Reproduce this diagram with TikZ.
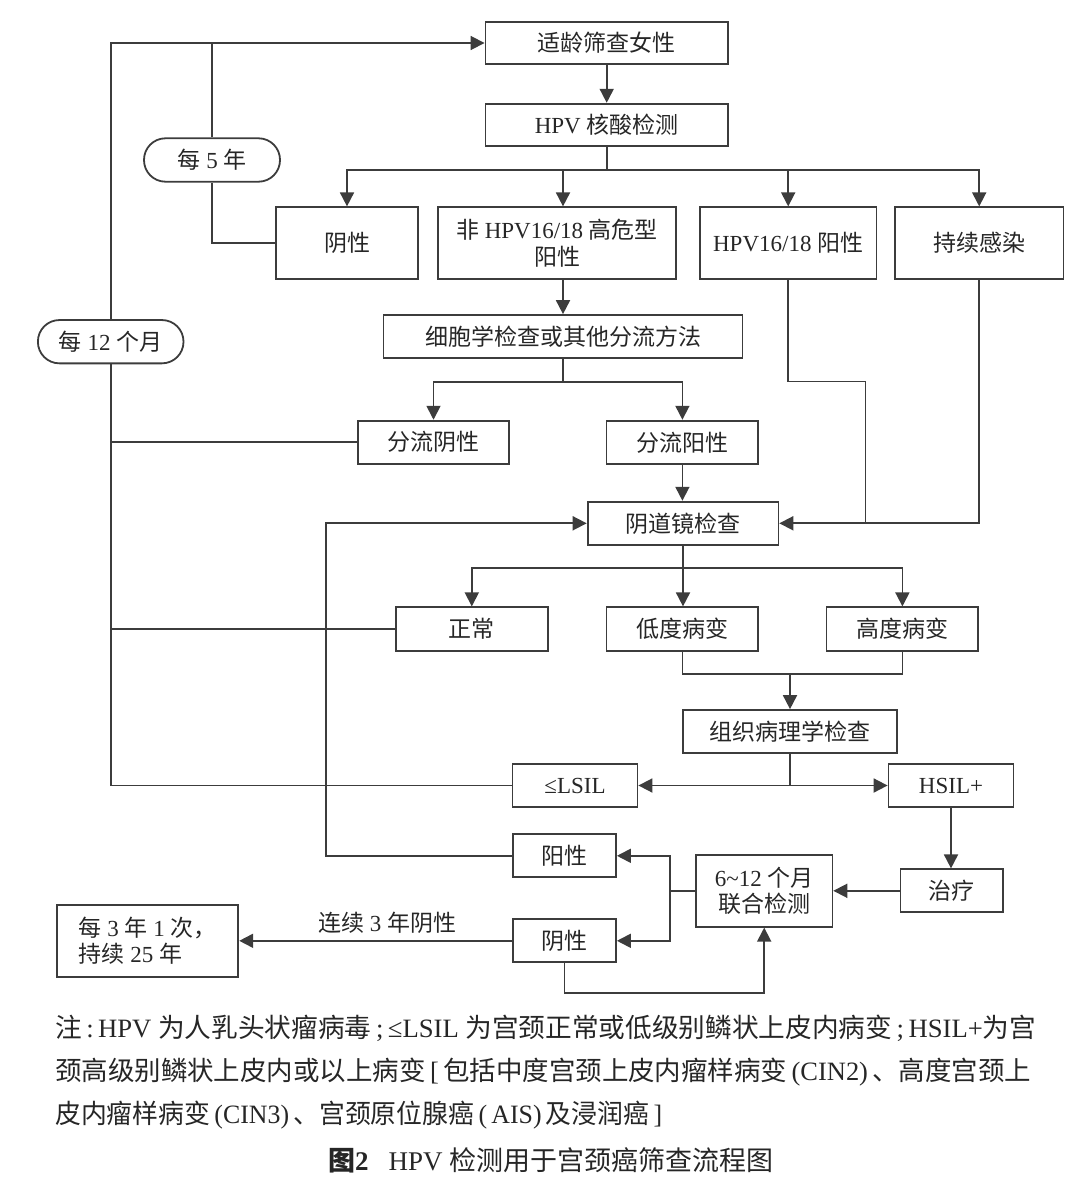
\documentclass[tikz,border=0pt]{standalone}
\usepackage{fontspec}
\usepackage{graphicx}
\setmainfont{Liberation Serif}
\newfontfamily\cjk{Noto Sans CJK SC}
\newcommand\zh[1]{{\cjk #1}}
\newcommand\fsz{\fontsize{23}{26.5}\selectfont}
\newcommand\nfsz{\fontsize{26.5}{30}\selectfont}
\newcommand\cfsz{\fontsize{27}{30}\selectfont}
\usetikzlibrary{arrows.meta}
\definecolor{lc}{HTML}{3C3C3C}
\definecolor{tc}{HTML}{262626}
\begin{document}
\begin{tikzpicture}[x=1pt,y=-1pt,
  every node/.style={text=tc},
  box/.style={draw=lc, line width=1.8pt, inner sep=0pt, align=center, font=\fsz},
  pill/.style={box, rounded corners=21.5pt},
  con/.style={draw=lc, line width=1.8pt},
  arr/.style={con, -{Triangle[length=14pt,width=14pt]}},
  lbl/.style={inner sep=0pt, font=\fsz},
  note/.style={inner sep=0pt, anchor=west, font=\nfsz}]
\useasboundingbox (0,0) rectangle (1080,1190);
% boxes
\node[box, minimum width=242.5pt, minimum height=42.6pt] (top) at (606.7,43) {\zh{适龄筛查女性}};
\node[box, minimum width=242.5pt, minimum height=42.6pt] (hpv) at (606.7,125) {HPV \zh{核酸检测}};
\node[box, minimum width=142pt, minimum height=71.4pt] (neg1) at (347,243) {\zh{阴性}};
\node[box, minimum width=237.6pt, minimum height=71.4pt] (nonhpv) at (557,243) {\zh{非} HPV16/18 \zh{高危型}\\\zh{阳性}};
\node[box, minimum width=176.4pt, minimum height=71.4pt] (hpv1618) at (788.2,243) {HPV16/18 \zh{阳性}};
\node[box, minimum width=168.4pt, minimum height=71.4pt] (persist) at (979.2,243) {\zh{持续感染}};
\node[box, minimum width=359pt, minimum height=43.3pt] (cyto) at (563,336.7) {\zh{细胞学检查或其他分流方法}};
\node[box, minimum width=151.5pt, minimum height=43.3pt] (trineg) at (433.5,442.3) {\zh{分流阴性}};
\node[box, minimum width=151.8pt, minimum height=43.3pt] (tripos) at (682.4,442.3) {\zh{分流阳性}};
\node[box, minimum width=190.8pt, minimum height=43.3pt] (colpo) at (683,523.3) {\zh{阴道镜检查}};
\node[box, minimum width=151.6pt, minimum height=43.4pt] (normal) at (471.8,629) {\zh{正常}};
\node[box, minimum width=151.8pt, minimum height=43.4pt] (low) at (682.4,629) {\zh{低度病变}};
\node[box, minimum width=151.9pt, minimum height=43.4pt] (high) at (902.4,629) {\zh{高度病变}};
\node[box, minimum width=214.5pt, minimum height=43.3pt] (histo) at (790,731.7) {\zh{组织病理学检查}};
\node[box, minimum width=125pt, minimum height=43pt] (lsil) at (575,785.5) {≤LSIL};
\node[box, minimum width=125pt, minimum height=43pt] (hsil) at (951,785.5) {HSIL+};
\node[box, minimum width=103pt, minimum height=43pt] (pos2) at (564.5,855.8) {\zh{阳性}};
\node[box, minimum width=136.4pt, minimum height=71.4pt] (co) at (764.2,891) {6\textasciitilde 12 \zh{个月}\\\zh{联合检测}};
\node[box, minimum width=102.7pt, minimum height=43pt] (treat) at (951.8,890.8) {\zh{治疗}};
\node[box, minimum width=103pt, minimum height=43pt] (neg2) at (564.5,940.8) {\zh{阴性}};
\node[box, align=left, minimum width=181.6pt, minimum height=72pt] (every3) at (147.5,940.8) {\zh{每} 3 \zh{年} 1 \zh{次，}\\\zh{持续} 25 \zh{年}\hspace{22pt}};
\node[pill, minimum width=136pt, minimum height=43.4pt] (s5) at (212,160) {\zh{每} 5 \zh{年}};
\node[pill, minimum width=145.6pt, minimum height=43.3pt] (s12) at (110.7,341.7) {\zh{每} 12 \zh{个月}};
\node[lbl] (l3y) at (387,923) {\zh{连续} 3 \zh{年阴性}};
% connectors
\draw[arr] (top) -- (hpv);
\coordinate (b1) at (606.7,170);
\draw[con] (hpv.south) -- (b1);
\draw[arr] (b1) -| (neg1.north);
\draw[arr] (b1) -| (cyto.north |- nonhpv.north);
\draw[arr] (b1) -| (hpv1618.north);
\draw[arr] (b1) -| (persist.north);
\draw[con] (neg1.west) -| (s5.south);
\draw[con] (s5.north) -- (s5.north |- top.west);
\draw[con] (lsil.west) -| (s12.south);
\draw[arr] (s12.north) |- (top.west);
\draw[con] (trineg.west) -- (trineg.west -| s12.south);
\draw[con] (normal.west) -- (normal.west -| s12.south);
\draw[arr] (cyto.north |- nonhpv.south) -- (cyto.north);
\coordinate (b2) at (563,381.7);
\draw[con] (cyto.south) -- (b2);
\draw[arr] (b2) -| (trineg.north);
\draw[arr] (b2) -| (tripos.north);
\draw[arr] (tripos.south) -- (tripos.south |- colpo.north);
\coordinate (c1) at (865.4,381.5);
\draw[con] (hpv1618.south) |- (c1) -- (c1 |- colpo.east);
\draw[arr] (persist.south) |- (colpo.east);
\coordinate (c2) at (325.8,523.3);
\draw[arr] (pos2.west) -| (c2) -- (colpo.west);
\coordinate (b3) at (683,568.3);
\draw[con] (colpo.south) -- (b3);
\draw[arr] (b3) -| (normal.north);
\draw[arr] (b3) -- (b3 |- low.north);
\draw[arr] (b3) -| (high.north);
\coordinate (b4) at (790,674);
\draw[con] (low.south) |- (b4);
\draw[con] (high.south) |- (b4);
\draw[arr] (b4) -- (histo.north);
\coordinate (b5) at (790,785.5);
\draw[con] (histo.south) -- (b5);
\draw[arr] (b5) -- (lsil.east);
\draw[arr] (b5) -- (hsil.west);
\draw[arr] (hsil.south) -- (hsil.south |- treat.north);
\draw[arr] (treat.west) -- (treat.west -| co.east);
\coordinate (b6) at (669.8,891);
\draw[con] (co.west) -- (b6);
\draw[arr] (b6) |- (pos2.east);
\draw[arr] (b6) |- (neg2.east);
\coordinate (c3) at (564.5,992.7);
\draw[arr] (neg2.south) -- (c3) -| (co.south);
\draw[arr] (neg2.west) -- (neg2.west -| every3.east);
% note
\node[note] (n1) at (55,1028) {\resizebox{981pt}{\height}{\zh{注}\,:\,HPV \zh{为人乳头状瘤病毒}\,;\,≤LSIL \zh{为宫颈正常或低级别鳞状上皮内病变}\,;\,HSIL+\zh{为宫}}};
\node[note] (n2) at (55,1071.7) {\resizebox{976pt}{\height}{\zh{颈高级别鳞状上皮内或以上病变}\,[\,\zh{包括中度宫颈上皮内瘤样病变}\,(CIN2)\,\zh{、高度宫颈上}}};
\node[note] (n3) at (55,1115) {\resizebox{607pt}{\height}{\zh{皮内瘤样病变}\,(CIN3)\,\zh{、宫颈原位腺癌}\,(\,AIS)\,\zh{及浸润癌}\,]}};
\node[note, font=\cfsz] (cap) at (328,1160) {\resizebox{445pt}{\height}{\textbf{\zh{图}2}\hspace{20pt}HPV \zh{检测用于宫颈癌筛查流程图}}};
\end{tikzpicture}
\end{document}
